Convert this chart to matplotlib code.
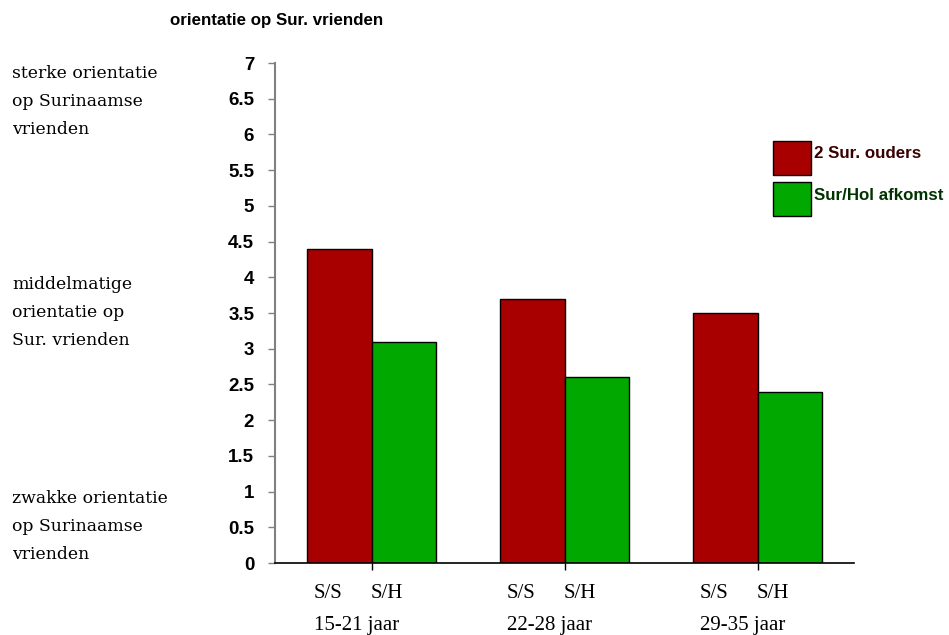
import matplotlib.pyplot as plt
from matplotlib.patches import Rectangle

# data
groups = ['15-21 jaar', '22-28 jaar', '29-35 jaar']
sur_sur = [4.4, 3.7, 3.5]      # 2 Sur. ouders
sur_hol = [3.1, 2.6, 2.4]      # Sur/Hol afkomst
series_labels = ['2 Sur. ouders', 'Sur/Hol afkomst']
yticks = [0, 0.5, 1, 1.5, 2, 2.5, 3, 3.5, 4, 4.5, 5, 5.5, 6, 6.5, 7]
side_notes = [
    (6.85, ['sterke orientatie', 'op Surinaamse', 'vrienden']),
    (3.9, ['middelmatige', 'orientatie op', 'Sur. vrienden']),
    (0.9, ['zwakke orientatie', 'op Surinaamse', 'vrienden']),
]

red = '#A80000'
green = '#00A800'
W, H = 949, 635

fig = plt.figure(figsize=(W / 100, H / 100), dpi=100)
ax = fig.add_axes([275 / W, 1 - 563 / H, (854 - 275) / W, (563 - 63) / H])

centers = [0.5, 1.5, 2.5]
bw = 1 / 3
ax.bar([c - bw / 2 for c in centers], sur_sur, width=bw, color=red,
       edgecolor='black', linewidth=1)
ax.bar([c + bw / 2 for c in centers], sur_hol, width=bw, color=green,
       edgecolor='black', linewidth=1)

ax.set_xlim(0, 3)
ax.set_ylim(0, 7)
ax.set_yticks(yticks)
ax.set_yticklabels([f'{v:g}' for v in yticks], fontfamily='Liberation Sans',
                   fontweight='bold', fontsize=13.5)
ax.set_xticks(centers)
ax.set_xticklabels([])
ax.tick_params(axis='y', length=5, width=1, color='#808080', pad=10)
ax.tick_params(axis='x', length=5, width=1, color='black', direction='out')

for s in ['top', 'right']:
    ax.spines[s].set_visible(False)
ax.spines['left'].set_color('#808080')
ax.spines['left'].set_linewidth(1.5)
ax.spines['bottom'].set_color('black')
ax.spines['bottom'].set_linewidth(1.2)

# labels under the bars
serif = 'Liberation Serif'
for c, g in zip(centers, groups):
    ax.text(c - 0.223, -0.42, 'S/S', ha='center', va='center',
            fontfamily=serif, fontsize=15)
    ax.text(c + 0.078, -0.42, 'S/H', ha='center', va='center',
            fontfamily=serif, fontsize=15)
    ax.text(c - 0.078, -0.88, g, ha='center', va='center',
            fontfamily=serif, fontsize=15)

# title above the axis
fig.text(170 / W, 1 - 20 / H, 'orientatie op Sur. vrienden', ha='left',
         va='center', fontfamily='Liberation Sans', fontweight='bold',
         fontsize=12.2)

# side notes on the left
for ytop, lines in side_notes:
    y0 = ax.transData.transform((0, ytop))[1]
    for i, line in enumerate(lines):
        fig.text(12 / W, (y0 - i * 28) / H, line, ha='left', va='center',
                 fontfamily='DejaVu Serif', fontsize=12.4)

# legend drawn as boxes
leg = [(141, red, '#3a0000'), (182, green, '#003300')]
for (top, col, tcol), lab in zip(leg, series_labels):
    fig.add_artist(Rectangle((773 / W, 1 - (top + 34) / H), 38 / W, 34 / H,
                             facecolor=col, edgecolor='black', linewidth=1,
                             transform=fig.transFigure))
    fig.text(814 / W, 1 - (top + 13) / H, lab, ha='left', va='center',
             fontfamily='Liberation Sans', fontweight='bold', fontsize=12.2,
             color=tcol)

fig.savefig('out.png', dpi=100)
